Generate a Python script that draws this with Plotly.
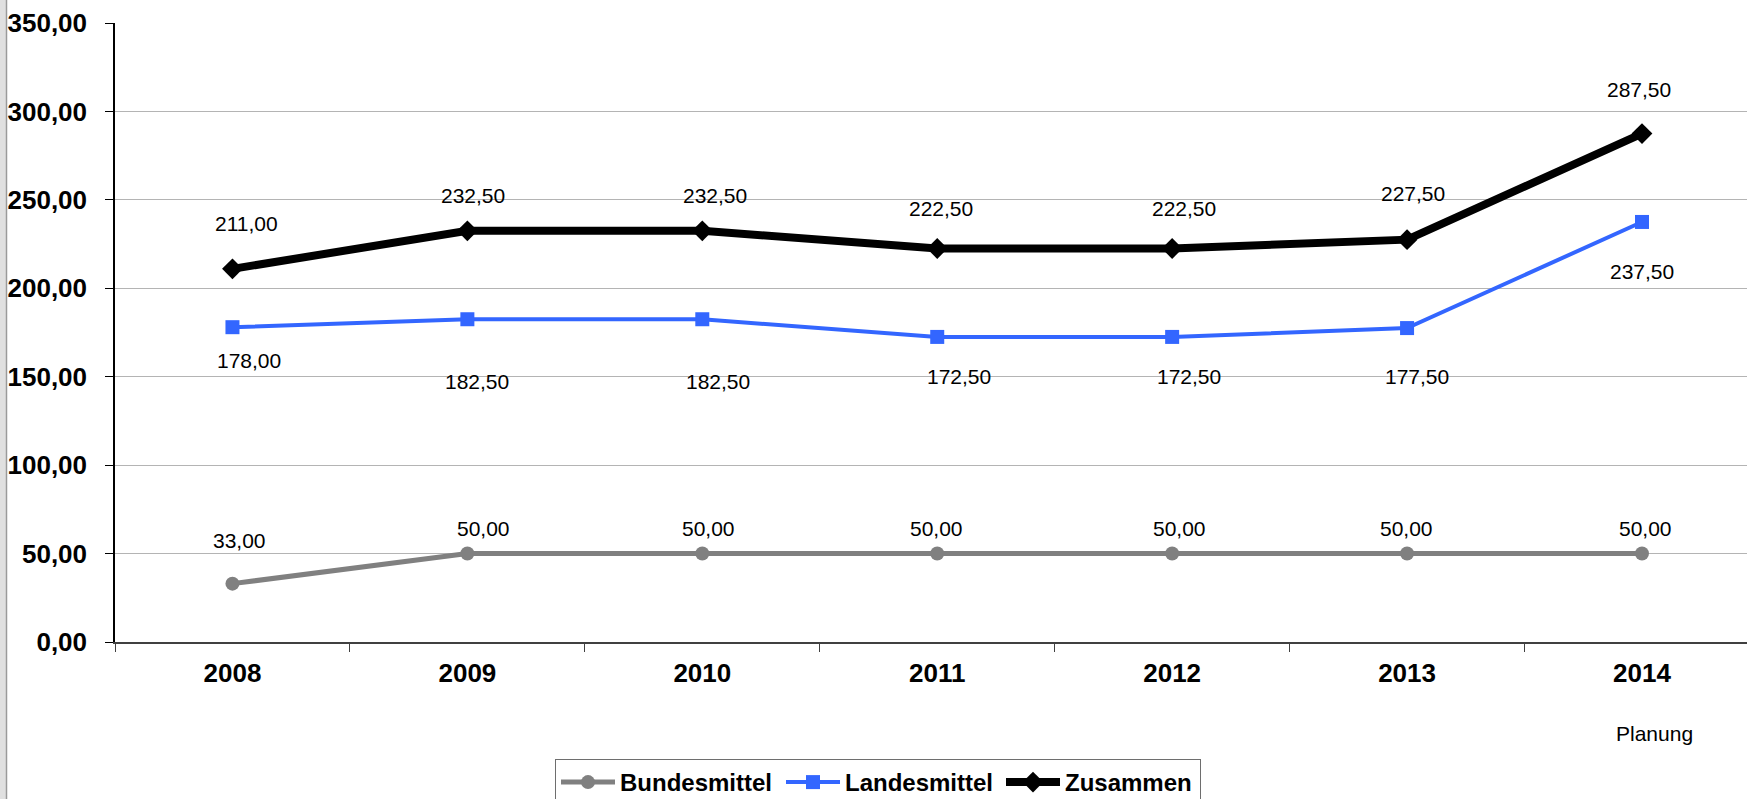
import plotly.graph_objects as go

# ---- data ----
years = ["2008", "2009", "2010", "2011", "2012", "2013", "2014"]
bundesmittel = [33.0, 50.0, 50.0, 50.0, 50.0, 50.0, 50.0]
landesmittel = [178.0, 182.5, 182.5, 172.5, 172.5, 177.5, 237.5]
zusammen = [211.0, 232.5, 232.5, 222.5, 222.5, 227.5, 287.5]
series_names = ["Bundesmittel", "Landesmittel", "Zusammen"]
y_ticks = [0, 50, 100, 150, 200, 250, 300, 350]
note_text = "Planung"

FONT = "Liberation Sans, Arial, sans-serif"
W, H = 1747, 799
ML, MR, MT, MB = 115, 0, 23, 157
PW = W - ML - MR
PH = H - MT - MB

fig = go.Figure()

styles = [
    dict(color="#808080", width=5, symbol="circle", size=14, lw=156),
    dict(color="#3366FF", width=4, symbol="square", size=14, lw=151),
    dict(color="#000000", width=8, symbol="diamond", size=16, lw=130),
]
for name, vals, st in zip(series_names, [bundesmittel, landesmittel, zusammen], styles):
    fig.add_trace(go.Scatter(
        x=years, y=vals, name=name, mode="lines+markers",
        line=dict(color=st["color"], width=st["width"]),
        marker=dict(color=st["color"], symbol=st["symbol"], size=st["size"]),
        legendwidth=st["lw"],
        hoverinfo="skip",
    ))

# label offsets (pixels) per point: (x shift, y shift upward)
label_offsets = {
    "Bundesmittel": [(7, 43), (16, 25), (6, 25), (-1, 25), (7, 25), (-1, 25), (4, 25)],
    "Landesmittel": [(17, -33), (10, -62), (16, -62), (22, -40), (17, -40), (10, -48), (0, -50)],
    "Zusammen": [(14, 45), (6, 35), (13, 35), (4, 40), (12, 40), (6, 46), (-3, 44)],
}

def fmt(v):
    return f"{v:.2f}".replace(".", ",")

for name, vals in zip(series_names, [bundesmittel, landesmittel, zusammen]):
    for i, (v, (dx, dy)) in enumerate(zip(vals, label_offsets[name])):
        fig.add_annotation(
            x=i, y=v, xref="x", yref="y", text=fmt(v), showarrow=False,
            xshift=dx, yshift=dy, xanchor="center", yanchor="middle",
            font=dict(family=FONT, size=21, color="black"),
        )

fig.add_annotation(
    x=len(years) - 1, y=0, xref="x", yref="y", text=note_text, showarrow=False,
    xshift=13, yshift=-91, xanchor="center", yanchor="middle",
    font=dict(family=FONT, size=21, color="black"),
)

# left gray border strip
fig.add_shape(type="rect", xref="paper", yref="paper",
              x0=(0 - ML) / PW, x1=(6 - ML) / PW, y0=-MB / PH, y1=1 + MT / PH,
              fillcolor="#e0e0e0", line=dict(width=0), layer="below")
fig.add_shape(type="line", xref="paper", yref="paper",
              x0=(6.5 - ML) / PW, x1=(6.5 - ML) / PW, y0=-MB / PH, y1=1 + MT / PH,
              line=dict(color="#9a9a9a", width=1.5))

fig.update_layout(
    width=W, height=H,
    margin=dict(l=ML, r=MR, t=MT, b=MB, autoexpand=False),
    paper_bgcolor="white", plot_bgcolor="white",
    separators=",.",
    font=dict(family=FONT, color="black"),
    showlegend=True,
    legend=dict(
        orientation="h", x=(555 - ML) / PW, y=(642 - 759) / PH,
        xanchor="left", yanchor="top",
        itemwidth=54,
        font=dict(family=FONT, size=24, color="black", weight="bold"),
        bordercolor="#6e6e6e", borderwidth=1, bgcolor="white",
        itemclick=False, itemdoubleclick=False,
    ),
    xaxis=dict(
        type="category", range=[-0.5, 6.447], tickson="boundaries",
        showline=True, linecolor="#404040", linewidth=1.5,
        ticks="outside", ticklen=8, tickcolor="#404040", tickwidth=1,
        showgrid=False, zeroline=False, automargin=False,
        tickfont=dict(family=FONT, size=26, color="black", weight="bold"),
        ticklabelstandoff=7,
    ),
    yaxis=dict(
        range=[0, 350], tickvals=y_ticks, tickformat=".2f",
        showline=True, linecolor="black", linewidth=1.5,
        ticks="outside", ticklen=8, tickcolor="black", tickwidth=1,
        showgrid=True, gridcolor="#b4b4b4", gridwidth=1,
        zeroline=False, automargin=False,
        tickfont=dict(family=FONT, size=26, color="black", weight="bold"),
        ticklabelstandoff=13,
    ),
)

fig.write_html(
    "out.html",
    config={"displayModeBar": False},
    post_script="document.body.style.margin='0';document.body.style.overflow='hidden';",
)
